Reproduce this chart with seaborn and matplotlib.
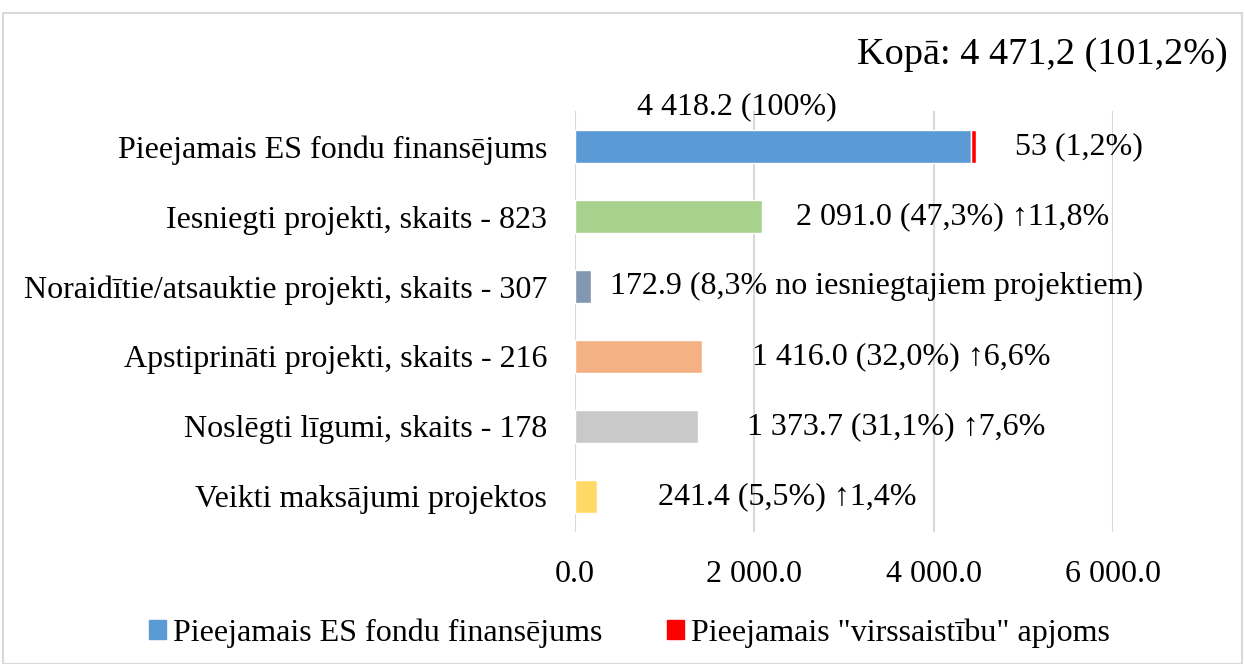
import matplotlib
matplotlib.use("Agg")
import matplotlib.pyplot as plt
import matplotlib.patches as mpatches
import seaborn as sns
import pandas as pd

categories = [
    "Pieejamais ES fondu finansējums",
    "Iesniegti projekti, skaits - 823",
    "Noraidītie/atsauktie projekti, skaits - 307",
    "Apstiprināti projekti, skaits - 216",
    "Noslēgti līgumi, skaits - 178",
    "Veikti maksājumi projektos",
]
values = [4418.2, 2091.0, 172.9, 1416.0, 1373.7, 241.4]
over_value = 53.0
labels = [
    "4 418.2 (100%)",
    "2 091.0 (47,3%) ↑11,8%",
    "172.9 (8,3% no iesniegtajiem projektiem)",
    "1 416.0 (32,0%) ↑6,6%",
    "1 373.7 (31,1%) ↑7,6%",
    "241.4 (5,5%) ↑1,4%",
]
over_label = "53 (1,2%)"
total_label = "Kopā: 4 471,2 (101,2%)"
xticks = [0, 2000, 4000, 6000]
xtick_labels = ["0.0", "2 000.0", "4 000.0", "6 000.0"]
legend_labels = ["Pieejamais ES fondu finansējums", 'Pieejamais "virssaistību" apjoms']

colors = ["#5B9BD5", "#A9D18E", "#8497B0", "#F4B183", "#C9C9C9", "#FFD966"]
red = "#FF0000"

sns.set_theme(style="white")
plt.rcParams["font.family"] = ["Liberation Serif", "DejaVu Serif"]
plt.rcParams["text.color"] = "black"
plt.rcParams["xtick.color"] = "black"
plt.rcParams["ytick.color"] = "black"

FS = 23

df = pd.DataFrame({"cat": categories, "val": values})

fig = plt.figure(figsize=(12.45, 6.64), dpi=100)
ax = fig.add_axes([575/1245, 1-532/664, (1113-575)/1245, (532-111)/664])

sns.barplot(data=df, y="cat", x="val", hue="cat", palette=colors, legend=False,
            width=0.47, ax=ax, saturation=1)
ax.barh(0, over_value, left=values[0], height=0.47, color=red)

ax.set_xlim(0, 6000)
ax.set_xticks(xticks)
ax.set_xticklabels(xtick_labels, fontsize=FS)
ax.tick_params(axis="x", length=0, pad=20)
ax.tick_params(axis="y", length=0, pad=20, labelsize=FS)
ax.set_xlabel("")
ax.set_ylabel("")
for s in ax.spines.values():
    s.set_visible(False)
ax.grid(axis="x", color="#D9D9D9", lw=1.5)
ax.set_axisbelow(True)

# value labels (offsets in points)
ax.annotate(labels[0], (values[0], 0), xytext=(-169, 29), textcoords="offset points",
            ha="center", va="center", fontsize=FS)
ax.annotate(over_label, (values[0] + over_value, 0), xytext=(74, 0), textcoords="offset points",
            ha="center", va="center", fontsize=FS)
offsets = [None, 24, 14, 36, 35, 44]
for i in range(1, len(values)):
    ax.annotate(labels[i], (values[i], i), xytext=(offsets[i], 0), textcoords="offset points",
                ha="left", va="center", fontsize=FS)

fig.text(1228/1245, 1-55/664, total_label, ha="right", va="center", fontsize=27.5)

handles = [mpatches.Patch(color=colors[0]), mpatches.Patch(color=red)]
fig.legend(handles, legend_labels, loc="center", bbox_to_anchor=(0.5 + 7/1245, 1-633/664),
           ncol=2, frameon=False, fontsize=FS, handlelength=0.53, handleheight=0.53,
           handletextpad=0.22, columnspacing=2.0)

fig.add_artist(mpatches.Rectangle((3/1245, 0), 1239/1245, 1-13/664, transform=fig.transFigure,
                                  fill=False, edgecolor="#D9D9D9", lw=1.5))

fig.savefig("out.png", dpi=100)
